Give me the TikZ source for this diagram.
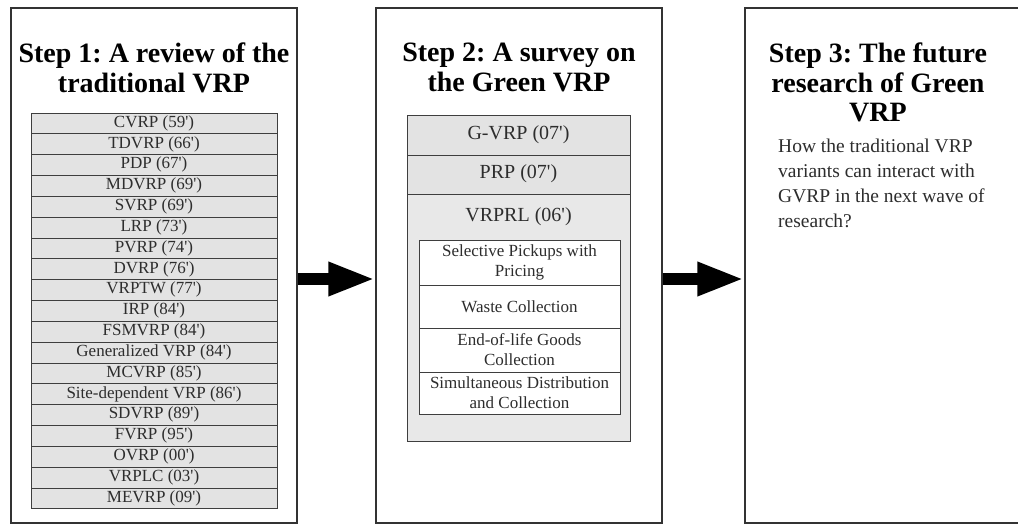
\documentclass[tikz,border=0pt]{standalone}
\usepackage{fontspec}
\setmainfont{Liberation Serif}
\usepackage{tikz}
\usetikzlibrary{positioning,arrows.meta}
\definecolor{rowgray}{RGB}{227,227,227}
\definecolor{boxgray}{RGB}{232,232,232}
\definecolor{edgegray}{RGB}{62,62,62}
\definecolor{inkgray}{RGB}{45,45,45}
\newcommand{\ap}{\textquotesingle}
\frenchspacing

\tikzset{
  panel/.style={draw=black!80, line width=1.3pt, fill=white, minimum width=286pt, minimum height=515pt, inner sep=0pt},
  title/.style={anchor=north, align=center, inner sep=0pt, font=\fontsize{28}{29.5}\selectfont\bfseries},
  vrow/.style={draw=edgegray, fill=rowgray, line width=0.9pt, minimum width=246pt, minimum height=20.84pt,
    inner sep=0pt, text height=12pt, text depth=4.5pt, text=inkgray, font=\fontsize{17}{17}\selectfont},
  greenrow/.style={draw=edgegray, fill=rowgray, line width=0.9pt, minimum width=223pt, inner sep=0pt,
    text height=13pt, text depth=5pt, text=inkgray, font=\fontsize{20}{20}\selectfont},
  wbox/.style={draw=edgegray, fill=white, line width=0.9pt, minimum width=201pt, inner sep=0pt,
    align=center, text=inkgray, font=\fontsize{17}{20}\selectfont},
  bigarrow/.style={line width=12pt, -{Triangle[length=47pt,width=31pt]}}
}

\begin{document}
\begin{tikzpicture}[x=1pt, y=-1pt]
  \useasboundingbox (0,0) rectangle (1018,525);
  \clip (0,0) rectangle (1018,525);
  % the three steps
  \node[panel] (p1) at (154,265.5) {};
  \node[panel] (p2) at (519,265.5) {};
  \node[panel] (p3) at (888,265.5) {};
  \node[title] (t1) at (154,43) {Step 1: A review of the\\traditional VRP};
  \node[title] (t2) at (519,43) {Step 2: A survey on\\the Green VRP};
  \node[title] (t3) at (878,43) {Step 3: The future\\research of Green\\VRP};

  % Step 1: traditional variants, oldest first
  \node[vrow] (cvrp)   at (154,123.4) {CVRP (59\ap)};
  \node[vrow] (tdvrp)  at (154,144.3) {TDVRP (66\ap)};
  \node[vrow] (pdp)    at (154,165.1) {PDP (67\ap)};
  \node[vrow] (mdvrp)  at (154,185.9) {MDVRP (69\ap)};
  \node[vrow] (svrp)   at (154,206.8) {SVRP (69\ap)};
  \node[vrow] (lrp)    at (154,227.6) {LRP (73\ap)};
  \node[vrow] (pvrp)   at (154,248.5) {PVRP (74\ap)};
  \node[vrow] (dvrp)   at (154,269.3) {DVRP (76\ap)};
  \node[vrow] (vrptw)  at (154,290.1) {VRPTW (77\ap)};
  \node[vrow] (irp)    at (154,311.0) {IRP (84\ap)};
  \node[vrow] (fsmvrp) at (154,331.8) {FSMVRP (84\ap)};
  \node[vrow] (genvrp) at (154,352.7) {Generalized VRP (84\ap)};
  \node[vrow] (mcvrp)  at (154,373.5) {MCVRP (85\ap)};
  \node[vrow] (sitevrp) at (154,394.3) {Site-dependent VRP (86\ap)};
  \node[vrow] (sdvrp)  at (154,415.2) {SDVRP (89\ap)};
  \node[vrow] (fvrp)   at (154,436.0) {FVRP (95\ap)};
  \node[vrow] (ovrp)   at (154,456.9) {OVRP (00\ap)};
  \node[vrow] (vrplc)  at (154,477.7) {VRPLC (03\ap)};
  \node[vrow] (mevrp)  at (154,498.5) {MEVRP (09\ap)};

  % Step 2: green variants
  \node[draw=edgegray, fill=boxgray, line width=0.9pt, minimum width=223pt, minimum height=326pt] (green) at (518.5,278) {};
  \node[greenrow, minimum height=40pt] (gvrp) at (518.5,135) {G-VRP (07\ap)};
  \node[greenrow, minimum height=39pt] (prp) at (518.5,174.5) {PRP (07\ap)};
  \node[anchor=base, text=inkgray, font=\fontsize{20}{20}\selectfont] (vrprl) at (518.5,221) {VRPRL (06\ap)};
  \node[wbox, minimum height=45pt] (pick) at (519.5,262.5) {Selective Pickups with\\Pricing};
  \node[wbox, minimum height=43pt] (waste) at (519.5,306.5) {Waste Collection};
  \node[wbox, minimum height=44pt] (eol) at (519.5,350) {End-of-life Goods\\Collection};
  \node[wbox, minimum height=42pt] (simul) at (519.5,393) {Simultaneous Distribution\\and Collection};

  % Step 3: open question
  \node[anchor=north west, align=left, inner sep=0pt, text=inkgray, font=\fontsize{19.5}{25}\selectfont] (question) at (778,139)
    {How the traditional VRP\\variants can interact with\\GVRP in the next wave of\\research?};

  \draw[bigarrow] ([yshift=-13.5pt]p1.east) -- ([yshift=-13.5pt]p2.west);
  \draw[bigarrow] ([yshift=-13.5pt]p2.east) -- ([yshift=-13.5pt]p3.west);
\end{tikzpicture}
\end{document}
